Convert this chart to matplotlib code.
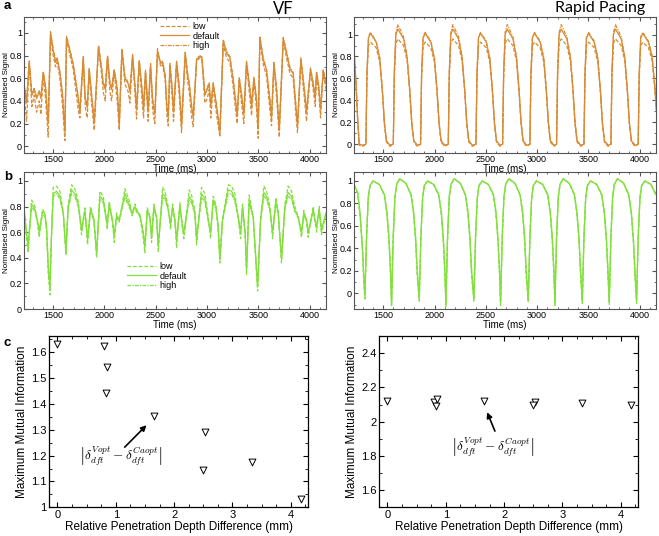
import matplotlib
matplotlib.use("Agg")
import matplotlib.pyplot as plt
from matplotlib.ticker import FuncFormatter, AutoMinorLocator, MultipleLocator

plt.rcParams['font.family'] = ['Liberation Sans', 'DejaVu Sans']
plt.rcParams['mathtext.fontset'] = 'cm'

# ---- panel a, VF (voltage) ----
vf_a_t = [1214, 1240, 1266, 1292, 1315, 1338, 1364, 1380, 1403, 1425,
          1451, 1474, 1500, 1523, 1539, 1565, 1591, 1614, 1630, 1663,
          1695, 1744, 1760, 1793, 1812, 1832, 1851, 1874, 1900, 1942,
          1971, 1988, 2007, 2030, 2053, 2069, 2095, 2124, 2144, 2170,
          2199, 2231, 2248, 2274, 2296, 2313, 2339, 2365, 2381, 2400,
          2426, 2449, 2469, 2491, 2517, 2547, 2566, 2592, 2608, 2621,
          2638, 2660, 2673, 2703, 2729, 2751, 2787, 2810, 2826, 2849,
          2865, 2898, 2924, 2950, 2979, 3002, 3021, 3037, 3060, 3093,
          3125, 3158, 3190, 3223, 3255, 3271, 3294, 3314, 3336, 3359,
          3385, 3418, 3434, 3457, 3483, 3499, 3515, 3548, 3580, 3613,
          3629, 3652, 3678, 3704, 3743, 3775, 3808, 3840, 3866, 3882,
          3915, 3938, 3957, 3970, 4009, 4035, 4055, 4068, 4090, 4107,
          4133, 4159]
vf_a_default = [.55, .38, .74, .45, .50, .42, .48, .42, .65, .52,
                .20, 1.00, .84, .74, .77, .65, .45, .12, .96, .84,
                .72, .42, .30, .78, .42, .34, .68, .45, .20, .88,
                .68, .55, .50, .79, .55, .50, .67, .50, .18, .85,
                .60, .55, .48, .80, .55, .32, .75, .50, .33, .66,
                .30, .72, .40, .28, .84, .73, .74, .62, .35, .25,
                .72, .50, .30, .74, .52, .18, .82, .63, .55, .35,
                .25, .76, .79, .78, .45, .50, .55, .35, .55, .35,
                .12, .93, .82, .78, .58, .45, .27, .60, .45, .28,
                .74, .50, .35, .60, .40, .15, .96, .76, .67, .40,
                .25, .73, .50, .14, .95, .82, .68, .64, .35, .18,
                .77, .58, .42, .30, .68, .55, .42, .65, .52, .32,
                .67, .55]
vf_a_low = [.50, .22, .72, .35, .45, .30, .40, .28, .62, .42,
            .08, .98, .80, .70, .74, .60, .35, .05, .94, .80,
            .68, .32, .25, .76, .35, .25, .66, .38, .14, .86,
            .64, .48, .40, .77, .48, .40, .65, .40, .14, .84,
            .55, .48, .38, .78, .48, .24, .73, .42, .25, .64,
            .22, .70, .32, .20, .86, .70, .72, .58, .28, .18,
            .70, .42, .22, .72, .45, .12, .80, .58, .48, .26,
            .17, .74, .78, .76, .38, .42, .50, .25, .52, .28,
            .08, .90, .78, .74, .52, .38, .20, .58, .38, .20,
            .72, .42, .27, .58, .32, .07, .94, .72, .62, .32,
            .18, .71, .43, .08, .93, .78, .64, .60, .28, .12,
            .75, .52, .35, .22, .66, .50, .35, .63, .46, .25,
            .65, .50]
vf_a_high = [.56, .40, .76, .46, .51, .43, .49, .44, .66, .53,
             .22, 1.01, .86, .76, .78, .66, .46, .14, .97, .85,
             .73, .44, .31, .79, .44, .36, .69, .46, .22, .89,
             .70, .56, .52, .80, .56, .52, .68, .52, .20, .86,
             .62, .56, .50, .81, .56, .34, .76, .52, .35, .67,
             .32, .73, .42, .30, .83, .74, .75, .63, .37, .27,
             .73, .52, .32, .75, .54, .20, .83, .65, .56, .37,
             .27, .77, .80, .79, .47, .52, .56, .37, .56, .37,
             .14, .94, .84, .79, .60, .47, .29, .61, .47, .30,
             .75, .52, .37, .61, .42, .17, .97, .78, .68, .42,
             .27, .74, .52, .16, .96, .84, .70, .65, .37, .20,
             .78, .60, .44, .32, .69, .56, .44, .66, .53, .34,
             .68, .56]

# ---- panel a, rapid pacing (voltage) ----
rp_a_t = [1215, 1235, 1252, 1266, 1300,
          1331, 1341, 1356, 1376, 1431, 1466, 1491, 1511, 1531, 1566,
          1598, 1608, 1623, 1643, 1698, 1733, 1758, 1778, 1798, 1833,
          1864, 1874, 1889, 1909, 1964, 1999, 2024, 2044, 2064, 2099,
          2134, 2144, 2159, 2179, 2234, 2269, 2294, 2314, 2334, 2369,
          2404, 2414, 2429, 2449, 2504, 2539, 2564, 2584, 2604, 2639,
          2664, 2674, 2689, 2709, 2764, 2799, 2824, 2844, 2864, 2899,
          2930, 2940, 2955, 2975, 3030, 3065, 3090, 3110, 3130, 3165,
          3190, 3200, 3215, 3235, 3290, 3325, 3350, 3370, 3390, 3425,
          3457, 3467, 3482, 3502, 3557, 3592, 3617, 3637, 3657, 3692,
          3720, 3730, 3745, 3765, 3820, 3855, 3880, 3900, 3920, 3955,
          3986, 3996, 4011, 4031, 4086, 4121, 4146, 4165]
rp_a_default = [.85, .55, .20, .0, -.01,
                0, .65, .97, 1.01, .93, .78, .50, .20, .03, -.01,
                0, .66, 1.00, 1.05, .96, .79, .50, .20, .03, -.01,
                0, .65, .97, 1.01, .93, .78, .50, .20, .03, -.01,
                0, .66, 1.00, 1.05, .96, .79, .50, .20, .03, -.01,
                0, .65, .97, 1.01, .93, .78, .50, .20, .03, -.01,
                0, .66, 1.00, 1.05, .96, .79, .50, .20, .03, -.01,
                0, .65, .97, 1.01, .93, .78, .50, .20, .03, -.01,
                0, .66, 1.00, 1.05, .96, .79, .50, .20, .03, -.01,
                0, .65, .97, 1.01, .93, .78, .50, .20, .03, -.01,
                0, .66, 1.00, 1.05, .96, .79, .50, .20, .03, -.01,
                0, .65, .97, 1.01, .93, .80, .55, .30]
rp_a_low = [.83, .52, .18, -.01, -.02,
            0, .60, .90, .93, .88, .75, .48, .18, .02, -.02,
            0, .60, .92, .96, .90, .76, .48, .18, .02, -.02,
            0, .60, .90, .93, .88, .75, .48, .18, .02, -.02,
            0, .60, .92, .96, .90, .76, .48, .18, .02, -.02,
            0, .60, .90, .93, .88, .75, .48, .18, .02, -.02,
            0, .60, .92, .96, .90, .76, .48, .18, .02, -.02,
            0, .60, .90, .93, .88, .75, .48, .18, .02, -.02,
            0, .60, .92, .96, .90, .76, .48, .18, .02, -.02,
            0, .60, .90, .93, .88, .75, .48, .18, .02, -.02,
            0, .60, .92, .96, .90, .76, .48, .18, .02, -.02,
            0, .60, .90, .93, .88, .77, .52, .28]
rp_a_high = [.86, .56, .21, .0, -.01,
             0, .65, .98, 1.02, .94, .79, .50, .20, .03, -.01,
             0, .67, 1.02, 1.09, .98, .80, .50, .20, .03, -.01,
             0, .65, .98, 1.02, .94, .79, .50, .20, .03, -.01,
             0, .67, 1.02, 1.09, .98, .80, .50, .20, .03, -.01,
             0, .65, .98, 1.02, .94, .79, .50, .20, .03, -.01,
             0, .67, 1.02, 1.09, .98, .80, .50, .20, .03, -.01,
             0, .65, .98, 1.02, .94, .79, .50, .20, .03, -.01,
             0, .67, 1.02, 1.09, .98, .80, .50, .20, .03, -.01,
             0, .65, .98, 1.02, .94, .79, .50, .20, .03, -.01,
             0, .67, 1.02, 1.09, .98, .80, .50, .20, .03, -.01,
             0, .65, .98, 1.02, .94, .81, .56, .31]

# ---- panel b, VF (calcium) ----
vf_b_t = [1214, 1240, 1256, 1289, 1321, 1344, 1364, 1396, 1419, 1435,
          1451, 1468, 1484, 1500, 1533, 1565, 1598, 1624, 1646, 1679,
          1711, 1744, 1776, 1809, 1835, 1864, 1897, 1923, 1955, 1988,
          2014, 2027, 2046, 2076, 2095, 2118, 2144, 2199, 2248, 2268,
          2296, 2319, 2345, 2378, 2394, 2417, 2443, 2459, 2482, 2508,
          2524, 2566, 2589, 2621, 2644, 2664, 2687, 2703, 2735, 2761,
          2774, 2826, 2849, 2881, 2898, 2946, 2979, 3011, 3034, 3060,
          3086, 3109, 3125, 3151, 3206, 3239, 3271, 3304, 3327, 3346,
          3372, 3385, 3411, 3450, 3493, 3522, 3554, 3580, 3613, 3639,
          3671, 3694, 3726, 3759, 3791, 3824, 3856, 3889, 3921, 3944,
          3970, 3986, 4035, 4051, 4068, 4094, 4116, 4159]
vf_b_default = [.80, .60, .50, .82, .78, .70, .62, .76, .74, .65,
                .35, .18, .60, .90, .92, .88, .75, .46, .80, .93,
                .90, .82, .63, .77, .55, .78, .70, .44, .88, .85,
                .72, .67, .82, .70, .58, .73, .70, .90, .80, .75,
                .80, .76, .74, .60, .50, .77, .72, .57, .80, .72,
                .50, .90, .88, .78, .67, .80, .70, .54, .81, .65,
                .60, .88, .85, .75, .55, .90, .86, .70, .60, .85,
                .80, .65, .40, .70, .93, .92, .86, .72, .60, .80,
                .60, .32, .85, .72, .18, .70, .91, .88, .78, .60,
                .84, .75, .40, .80, .91, .88, .77, .72, .60, .75,
                .70, .60, .78, .70, .65, .78, .62, .75]
vf_b_low = [.78, .55, .44, .85, .80, .68, .56, .78, .75, .60,
            .28, .11, .58, .95, .96, .92, .76, .42, .82, .97,
            .94, .84, .58, .79, .50, .80, .70, .40, .92, .88,
            .72, .62, .84, .70, .52, .75, .68, .94, .83, .73,
            .82, .77, .72, .55, .44, .79, .72, .52, .82, .71,
            .45, .95, .92, .80, .62, .82, .68, .48, .83, .62,
            .55, .93, .89, .77, .50, .95, .90, .72, .55, .88,
            .82, .60, .36, .70, .97, .96, .90, .72, .55, .82,
            .56, .27, .89, .72, .14, .70, .96, .92, .80, .55,
            .87, .76, .36, .82, .96, .92, .80, .72, .56, .77,
            .68, .56, .80, .70, .60, .80, .58, .75]
vf_b_high = [.79, .58, .48, .80, .76, .69, .60, .74, .72, .63,
             .33, .16, .59, .88, .90, .86, .74, .45, .78, .90,
             .88, .80, .61, .75, .54, .76, .69, .43, .86, .83,
             .71, .66, .80, .69, .57, .71, .69, .87, .78, .74,
             .78, .75, .73, .59, .49, .75, .71, .56, .78, .71,
             .49, .87, .86, .77, .66, .78, .69, .53, .79, .64,
             .59, .85, .83, .74, .54, .87, .84, .69, .59, .83,
             .78, .64, .39, .69, .90, .90, .84, .71, .59, .78,
             .59, .31, .83, .71, .17, .69, .88, .86, .77, .59,
             .82, .74, .39, .78, .88, .86, .76, .71, .59, .73,
             .69, .59, .76, .69, .64, .76, .61, .74]

# ---- panel b, rapid pacing (calcium) ----
rp_b_t = [1215, 1250, 1275, 1297, 1310,
          1321, 1337, 1354, 1371, 1401, 1461, 1511, 1536, 1556, 1571,
          1581, 1597, 1614, 1631, 1661, 1721, 1771, 1796, 1816, 1831,
          1851, 1867, 1884, 1901, 1931, 1991, 2041, 2066, 2086, 2101,
          2111, 2127, 2144, 2161, 2191, 2251, 2301, 2326, 2346, 2361,
          2384, 2400, 2417, 2434, 2464, 2524, 2574, 2599, 2619, 2634,
          2644, 2660, 2677, 2694, 2724, 2784, 2834, 2859, 2879, 2894,
          2914, 2930, 2947, 2964, 2994, 3054, 3104, 3129, 3149, 3164,
          3174, 3190, 3207, 3224, 3254, 3314, 3364, 3389, 3409, 3424,
          3441, 3457, 3474, 3491, 3521, 3581, 3631, 3656, 3676, 3691,
          3704, 3720, 3737, 3754, 3784, 3844, 3894, 3919, 3939, 3954,
          3970, 3986, 4003, 4020, 4050, 4110, 4160]
rp_b_default = [.97, .90, .70, .40, .15,
                -.03, .50, .85, .96, 1.00, .97, .88, .72, .48, .20,
                -.10, .50, .86, .97, 1.02, .98, .88, .72, .48, .20,
                -.05, .50, .85, .96, 1.00, .97, .88, .72, .48, .20,
                -.10, .50, .86, .97, 1.02, .98, .88, .72, .48, .20,
                -.05, .50, .85, .96, 1.00, .97, .88, .72, .48, .20,
                -.09, .50, .86, .97, 1.02, .98, .88, .72, .48, .20,
                -.06, .50, .85, .96, 1.00, .97, .88, .72, .48, .20,
                -.09, .50, .86, .97, 1.02, .98, .88, .72, .48, .20,
                -.07, .50, .85, .96, 1.00, .97, .88, .72, .48, .20,
                -.08, .50, .86, .97, 1.02, .98, .88, .72, .48, .20,
                -.07, .50, .85, .96, 1.00, .97, .88]
rp_b_low = [.96, .89, .68, .37, .10,
            -.05, .46, .84, .96, 1.00, .97, .87, .70, .45, .15,
            -.12, .46, .85, .97, 1.02, .98, .87, .70, .45, .15,
            -.07, .46, .84, .96, 1.00, .97, .87, .70, .45, .15,
            -.12, .46, .85, .97, 1.02, .98, .87, .70, .45, .15,
            -.07, .46, .84, .96, 1.00, .97, .87, .70, .45, .15,
            -.11, .46, .85, .97, 1.02, .98, .87, .70, .45, .15,
            -.08, .46, .84, .96, 1.00, .97, .87, .70, .45, .15,
            -.11, .46, .85, .97, 1.02, .98, .87, .70, .45, .15,
            -.09, .46, .84, .96, 1.00, .97, .87, .70, .45, .15,
            -.10, .46, .85, .97, 1.02, .98, .87, .70, .45, .15,
            -.09, .46, .84, .96, 1.00, .97, .87]
rp_b_high = [.97, .90, .71, .42, .17,
             -.02, .52, .86, .96, 1.00, .97, .88, .73, .50, .22,
             -.08, .52, .87, .97, 1.02, .98, .88, .73, .50, .22,
             -.04, .52, .86, .96, 1.00, .97, .88, .73, .50, .22,
             -.08, .52, .87, .97, 1.02, .98, .88, .73, .50, .22,
             -.04, .52, .86, .96, 1.00, .97, .88, .73, .50, .22,
             -.07, .52, .87, .97, 1.02, .98, .88, .73, .50, .22,
             -.05, .52, .86, .96, 1.00, .97, .88, .73, .50, .22,
             -.07, .52, .87, .97, 1.02, .98, .88, .73, .50, .22,
             -.06, .52, .86, .96, 1.00, .97, .88, .73, .50, .22,
             -.06, .52, .87, .97, 1.02, .98, .88, .73, .50, .22,
             -.06, .52, .86, .96, 1.00, .97, .88]

# ---- panel c, mutual information ----
depth_diff = [0.0, 0.79, 0.857, 0.834, 1.663, 2.526, 2.497, 3.331, 4.171]
mi_vf = [1.631, 1.623, 1.542, 1.443, 1.353, 1.292, 1.143, 1.174, 1.032]
mi_rp = [2.118, 2.114, 2.133, 2.090, 2.118, 2.114, 2.100, 2.110, 2.100]

ORANGE = '#d88b33'
GREEN = '#82e03c'
series_labels = ['low', 'default', 'high']
styles = [(0, (3, 1.5)), '-', (0, (3, 1, 1, 1))]

fig = plt.figure(figsize=(6.59, 5.36), dpi=100)

fmt = FuncFormatter(lambda v, p: '%g' % v)


def trace_axes(rect, t, series, color, ylim, legend_pos=None):
    ax = fig.add_axes(rect)
    ax.patch.set_visible(False)
    for vals, lab, ls in zip(series, series_labels, styles):
        ax.plot(t, vals, color=color, ls=ls, lw=0.9, label=lab)
    ax.set_xlim(1215, 4160)
    ax.set_ylim(*ylim)
    ax.set_xticks([1500, 2000, 2500, 3000, 3500, 4000])
    ax.set_yticks([0, 0.2, 0.4, 0.6, 0.8, 1])
    ax.yaxis.set_major_formatter(fmt)
    ax.xaxis.set_minor_locator(AutoMinorLocator(5))
    ax.yaxis.set_minor_locator(AutoMinorLocator(2))
    ax.tick_params(which='both', direction='in', top=True, right=True,
                   labelsize=6.5, pad=1.5, color='#555555')
    ax.tick_params(which='major', length=3)
    ax.tick_params(which='minor', length=1.5)
    for s in ax.spines.values():
        s.set_color('#555555')
        s.set_linewidth(0.8)
    ax.set_xlabel('Time (ms)', fontsize=7, labelpad=0)
    ax.set_ylabel('Normalised Signal', fontsize=5.8)
    ax.yaxis.set_label_coords(-0.046, 0.5)
    if legend_pos is not None:
        ax.legend(loc='center', bbox_to_anchor=legend_pos, frameon=False,
                  fontsize=6.5, handlelength=3.2, labelspacing=0.05,
                  handletextpad=0.4, borderpad=0)
    return ax


trace_axes([0.0364, 0.7146, 0.4583, 0.2537], vf_a_t,
           [vf_a_low, vf_a_default, vf_a_high], ORANGE, (-0.06, 1.14), (0.55, 0.86))
trace_axes([0.5372, 0.7146, 0.4583, 0.2537], rp_a_t,
           [rp_a_low, rp_a_default, rp_a_high], ORANGE, (-0.08, 1.16))
trace_axes([0.0364, 0.4235, 0.4583, 0.2556], vf_b_t,
           [vf_b_low, vf_b_default, vf_b_high], GREEN, (0, 1.07), (0.44, 0.24))
trace_axes([0.5372, 0.4235, 0.4583, 0.2556], rp_b_t,
           [rp_b_low, rp_b_default, rp_b_high], GREEN, (-0.14, 1.08))


def mi_axes(rect, y, ylim, ystep, arrow_xy, text_xy):
    ax = fig.add_axes(rect)
    ax.scatter(depth_diff, y, marker='v', s=24, facecolors='white',
               edgecolors='black', linewidths=0.7, zorder=3)
    ax.set_xlim(-0.14, 4.3)
    ax.set_ylim(*ylim)
    ax.xaxis.set_major_locator(MultipleLocator(1))
    ax.yaxis.set_major_locator(MultipleLocator(ystep))
    ax.xaxis.set_major_formatter(fmt)
    ax.yaxis.set_major_formatter(fmt)
    ax.xaxis.set_minor_locator(AutoMinorLocator(4))
    ax.yaxis.set_minor_locator(AutoMinorLocator(2))
    ax.tick_params(which='both', direction='in', top=True, right=True,
                   labelsize=8, pad=2)
    ax.tick_params(which='major', length=3.5)
    ax.tick_params(which='minor', length=2)
    for s in ax.spines.values():
        s.set_linewidth(0.9)
    ax.set_xlabel('Relative Penetration Depth Difference (mm)', fontsize=8.5, labelpad=1)
    ax.set_ylabel('Maximum Mutual Information', fontsize=8.5, labelpad=2)
    ax.annotate('', xy=arrow_xy[0], xytext=arrow_xy[1],
                arrowprops=dict(arrowstyle='-|>', color='black', lw=1.2,
                                mutation_scale=8))
    ax.text(text_xy[0], text_xy[1],
            r'$\left|\delta_{dft}^{Vopt}-\delta_{dft}^{Caopt}\right|$',
            fontsize=9.5, ha='center', va='center')
    return ax


mi_axes([0.0748, 0.0535, 0.393, 0.3196], mi_vf, (1.0, 1.662), 0.1,
        ((1.56, 1.325), (1.12, 1.225)), (1.09, 1.195))
mi_axes([0.5756, 0.0535, 0.393, 0.3196], mi_rp, (1.5, 2.5), 0.2,
        ((1.69, 2.07), (1.86, 1.93)), (1.8, 1.85))

# titles and panel letters
fig.text(283 / 659, 1 - 9 / 536, 'VF', fontsize=12, family='Lato',
         ha='center', va='center')
fig.text(600 / 659, 1 - 8 / 536, 'Rapid Pacing', fontsize=11.5, family='Lato',
         ha='center', va='center')
for lab, yp in [('a', 6), ('b', 177), ('c', 343)]:
    fig.text(4 / 659, 1 - yp / 536, lab, fontsize=9.5, fontweight='bold',
             ha='left', va='center')

fig.savefig('out.png', dpi=100)
